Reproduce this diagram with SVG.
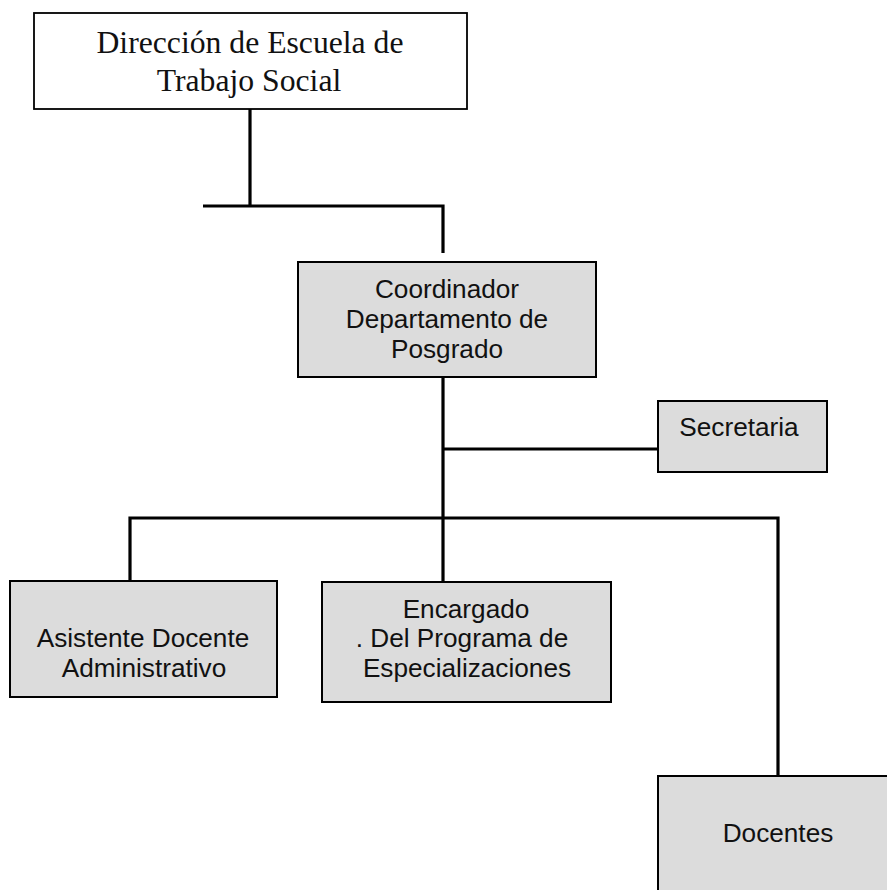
<svg xmlns="http://www.w3.org/2000/svg" width="887" height="890" viewBox="0 0 887 890">
<style>
.box{fill:#dcdcdc;stroke:#000;stroke-width:2}
.top{fill:#fff;stroke:#000;stroke-width:1.8}
.t{font-family:"Liberation Sans",Arial,sans-serif;font-size:26.2px;fill:#111;text-anchor:middle}
.s{font-family:"Liberation Serif","Times New Roman",serif;font-size:31.7px;fill:#111;text-anchor:middle}
.c{fill:none;stroke:#000;stroke-width:3.2;stroke-linecap:butt;stroke-linejoin:miter}
</style>
<rect width="887" height="890" fill="#fff"/>
<g id="connectors">
<path class="c" d="M250,109 V206"/>
<path class="c" d="M203,206 H443 V253"/>
<path class="c" d="M443,377 V582"/>
<path class="c" d="M443,449 H658"/>
<path class="c" d="M130,581 V518 H778 V776"/>
</g>
<g id="direccion">
<rect class="top" x="34" y="13" width="433" height="96"/>
<text class="s" x="250" y="53">Dirección de Escuela de</text>
<text class="s" x="249" y="91">Trabajo Social</text>
</g>
<g id="coordinador">
<rect class="box" x="298" y="262" width="298" height="115"/>
<text class="t" x="447" y="298">Coordinador</text>
<text class="t" x="447" y="328">Departamento de</text>
<text class="t" x="447" y="358">Posgrado</text>
</g>
<g id="secretaria">
<rect class="box" x="658" y="401" width="169" height="71"/>
<text class="t" x="739" y="436">Secretaria</text>
</g>
<g id="asistente">
<rect class="box" x="10" y="581" width="267" height="116"/>
<text class="t" x="143" y="647">Asistente Docente</text>
<text class="t" x="144" y="677">Administrativo</text>
</g>
<g id="encargado">
<rect class="box" x="322" y="582" width="289" height="120"/>
<text class="t" x="466" y="618">Encargado</text>
<text class="t" x="462" y="647">. Del Programa de</text>
<text class="t" x="467" y="677">Especializaciones</text>
</g>
<g id="docentes">
<rect class="box" x="658" y="776" width="240" height="130"/>
<text class="t" x="778" y="842">Docentes</text>
</g>
</svg>
